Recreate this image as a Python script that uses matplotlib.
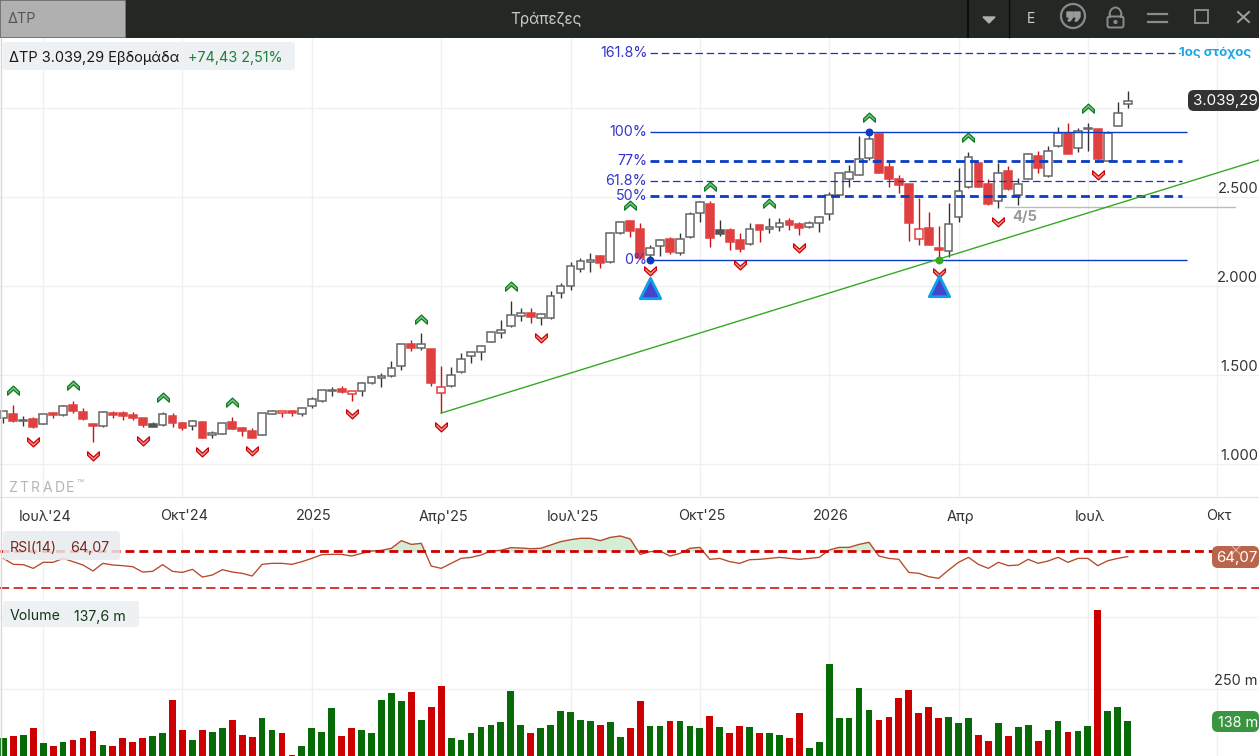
import numpy as np
import matplotlib
matplotlib.use("Agg")
import matplotlib.pyplot as plt
from matplotlib.path import Path
from matplotlib.patches import FancyBboxPatch, Rectangle, Circle, Arc

plt.rcParams['font.family'] = ['Inter', 'Noto Sans', 'DejaVu Sans']

# weekly candles
opens = [1257,1279,1242,1251,1223,1286,1277,1330,1290,1223,1212,1286,1285,1273,1257,1210,1221,1271,1230,1212,
         1236,1165,1167,1236,1200,1187,1165,1279,1285,1300,1279,1326,1354,1408,1419,1391,1412,1453,1481,1496,
         1552,1672,1654,1644,1397,1438,1515,1607,1627,1683,1738,1777,1831,1846,1818,1818,1959,2002,2094,2133,
         2170,2133,2296,2367,2318,2176,2225,2262,2183,2277,2408,2459,2294,2316,2260,2234,2341,2322,2330,2367,
         2346,2330,2352,2403,2511,2603,2625,2721,2852,2667,2599,2573,2262,2324,2212,2195,2386,2554,2689,2571,
         2479,2648,2513,2599,2732,2618,2786,2861,2773,2884,2880,2702,2899,3021]
highs = [1300,1330,1271,1262,1279,1290,1330,1354,1313,1228,1298,1296,1298,1292,1258,1236,1292,1286,1238,1247,
         1242,1187,1232,1262,1208,1200,1285,1303,1300,1305,1316,1376,1418,1433,1436,1412,1462,1494,1509,1579,
         1672,1697,1734,1644,1551,1545,1624,1627,1668,1740,1809,1916,1876,1876,1850,1970,2015,2133,2155,2187,
         2174,2305,2363,2371,2356,2230,2262,2273,2298,2414,2478,2476,2371,2324,2298,2352,2343,2382,2382,2380,
         2358,2367,2391,2530,2633,2680,2843,2843,2858,2699,2624,2573,2492,2416,2337,2464,2663,2753,2689,2599,
         2693,2674,2605,2745,2758,2786,2893,2916,2886,2916,2884,2873,3034,3095]
lows = [1232,1236,1215,1204,1223,1258,1270,1288,1247,1124,1208,1258,1247,1249,1208,1208,1213,1208,1191,1191,
        1146,1148,1167,1197,1159,1146,1165,1279,1264,1270,1271,1316,1348,1384,1401,1354,1384,1448,1434,1491,
        1528,1637,1640,1440,1285,1434,1513,1569,1584,1683,1710,1772,1805,1792,1781,1813,1934,1977,2080,2080,
        2103,2131,2290,2277,2150,2146,2170,2180,2176,2272,2361,2221,2283,2204,2193,2232,2249,2300,2311,2315,
        2288,2328,2305,2369,2511,2558,2624,2708,2635,2558,2524,2255,2232,2230,2146,2165,2361,2549,2554,2455,
        2440,2539,2457,2599,2635,2614,2783,2742,2753,2760,2699,2702,2899,3002]
closes = [1300,1240,1249,1210,1279,1277,1328,1296,1255,1212,1290,1277,1268,1257,1221,1225,1279,1228,1204,1243,
          1148,1172,1232,1198,1183,1148,1285,1300,1300,1285,1316,1363,1418,1418,1406,1412,1453,1487,1494,1541,
          1672,1650,1672,1457,1431,1502,1592,1627,1665,1740,1751,1839,1846,1828,1841,1944,2000,2114,2140,2144,
          2127,2296,2358,2311,2155,2212,2260,2189,2266,2404,2470,2272,2316,2245,2210,2322,2316,2330,2356,2345,
          2328,2356,2386,2511,2633,2639,2712,2824,2637,2603,2569,2356,2318,2232,2204,2346,2536,2723,2558,2459,
          2633,2543,2575,2740,2661,2760,2858,2743,2873,2890,2715,2858,2970,3039]
hollow_red = [28, 35, 44, 92]
dark_body = [15, 72]

volumes = [77.5,84.5,88,112.6,59.9,49.3,63.4,70.4,77.5,102,52.8,49.3,77.5,63.4,77.5,84.5,95,211,105.6,70.4,
           105.6,98.6,112.6,140.8,88,81,147.8,105.6,95,17.6,49.3,112.6,98.6,183,84.5,112.6,105.6,95,211,236,
           207.7,239.4,140.8,186.6,260.5,77.5,70.4,95,116.2,123.2,133.8,242.9,123.2,95,112.6,123.2,172.5,169,140.8,137.3,
           123.2,133.8,81,112.6,207.7,119.7,119.7,137.3,137.3,119.7,112.6,155,116.2,95,119.7,116.2,95,95,88,77.5,
           165.5,42.2,63.4,334.4,147.8,147.8,253.4,176,140.8,151.4,218.2,246.4,165.5,186.6,147.8,151.4,130.2,147.8,88,66.9,
           130.2,84.5,116.2,123.2,66.9,105.6,137.3,98.6,102,119.7,524.5,172.5,186.6,137.6]

rsi = [62.1,55.7,55.4,51.4,57.9,57.9,62.1,58.6,55,48.6,56.8,55,54.3,53.2,47.5,48.2,55.4,48.2,47.1,50.4,
       42.1,44.3,50,47.5,46.1,43.2,55.7,56.8,56.8,55.7,58.6,62.1,66.1,66.4,66.4,64.6,67.5,70,70.7,72.9,
       81.1,77.1,78.2,53.9,51.4,56.8,62.1,63.2,65.7,70,70.7,73.6,73.2,72.5,72.9,76.4,80,82.1,83.6,83.6,
       81.1,84.6,86.1,82.9,66.4,69.3,70,64.6,67.5,72.9,73.9,61.1,62.1,58.6,56.8,60.7,61.1,62.1,63.2,62.1,
       61.1,62.1,63.2,71.1,73.9,73.9,77.1,79.3,64.6,62.1,61.1,47.1,46.1,42.5,40.7,49.6,57.9,63.2,55.7,51.4,
       57.9,54.3,55,61.1,56.8,59.3,63.2,57.9,62.1,62.1,54.3,59.6,62.1,64.07]

date_ticks = [4, 18, 31, 44, 57, 70, 83, 96, 109, 122]
date_labels = ["Ιουλ'24", "Οκτ'24", "2025", "Απρ'25", "Ιουλ'25", "Οκτ'25", "2026", "Απρ", "Ιουλ", "Οκτ"]
price_ticks = [1000, 1500, 2000, 2500, 3000]
price_labels = ["1.000", "1.500", "2.000", "2.500"]

up_idx = [1, 7, 16, 23, 42, 51, 63, 71, 77, 87, 97, 109]
up_price = [1416, 1444, 1376, 1348, 1815, 2000, 2455, 2562, 2466, 2949, 2837, 3000]
down_idx = [3, 9, 14, 20, 25, 35, 44, 54, 65, 74, 80, 94, 100, 110]
down_price = [1124, 1045, 1129, 1067, 1073, 1281, 1208, 1708, 2084, 2118, 2213, 2073, 2360, 2624]

fib_names = ["0%", "50%", "61.8%", "77%", "100%", "161.8%"]
fib_prices = [2146, 2505, 2590, 2700, 2865, 3309]

W, H = 1259, 756
fig = plt.figure(figsize=(W / 100, H / 100), dpi=100, facecolor='white')


def panel(top, bottom):
    a = fig.add_axes([0, (H - bottom) / H, 1, (bottom - top) / H])
    a.set_xlim(-0.342, 126.2)
    a.set_xticks(date_ticks)
    a.tick_params(length=0, labelbottom=False, labelleft=False)
    a.grid(True, color='#f0f0f0', lw=1)
    a.set_axisbelow(True)
    for s in a.spines.values():
        s.set_visible(False)
    return a


ax = panel(38, 497)
ax.set_ylim(814.6, 3393.3)
ax.set_yticks(price_ticks)
ax2 = panel(529, 596)
ax2.set_ylim(21.8, 93.6)
ax2.set_yticks([])
ax3 = panel(597, 756)
ax3.set_ylim(14, 570)
ax3.set_yticks([250, 500])

n = len(closes)
xs = np.arange(n)
is_red = [closes[i] < opens[i] or i in hollow_red for i in range(n)]

# candles
for i in range(n):
    wick = '#cc1111' if is_red[i] else '#333333'
    ax.vlines(i, lows[i], highs[i], color=wick, lw=1.0, zorder=2)
    lo = min(opens[i], closes[i])
    hi = max(opens[i], closes[i])
    if i in hollow_red:
        face, edge = 'white', '#e04040'
    elif is_red[i]:
        face, edge = '#e04040', '#e04040'
    elif i in dark_body:
        face, edge = '#555555', '#555555'
    else:
        face, edge = 'white', '#666666'
    ax.bar(i, hi - lo, bottom=lo, width=0.78, facecolor=face, edgecolor=edge, lw=1.1, zorder=3)

# fib levels
x0, x1 = 65, 119
ax.hlines(fib_prices[0], x0, x1, color='#0a3cc4', lw=1, zorder=4)
ax.hlines(fib_prices[4], x0, x1, color='#0a3cc4', lw=1, zorder=4)
for k, lw in ((1, 2), (3, 2)):
    ax.plot([x0, 118.5], [fib_prices[k]] * 2, color='#0a3cc4', lw=lw, ls=(0, (3.2, 1.8)), zorder=4)
ax.plot([x0, 118.5], [fib_prices[2]] * 2, color='#0a3cc4', lw=0.9, ls=(0, (6, 3)), zorder=4)
ax.plot([x0, 118.3], [fib_prices[5]] * 2, color='#0a3cc4', lw=0.9, ls=(0, (6, 3)), zorder=4)
for name, p in zip(fib_names, fib_prices):
    ax.annotate(name, (x0, p), xytext=(-2, 0), textcoords='offset points', ha='right', va='center',
                color='#3434cc', fontsize=10.3, zorder=6)

# trend line and grey level
ax.plot([44, 126.2], [1286, 2708], color='#33aa22', lw=1, zorder=4)
ax.plot([100.7, 123.8], [2444, 2444], color='#bbbbbb', lw=1, zorder=2)
ax.text(101.4, 2425, "4/5", color='#999999', fontsize=10.5, fontweight='bold', ha='left', va='top')

# chevrons and pivots
chev = Path([(-1, -0.2), (0, 0.75), (1, -0.2), (1, -0.8), (0, 0.1), (-1, -0.8), (-1, -0.2)], closed=True)
chev_d = Path([(-1, 0.2), (0, -0.75), (1, 0.2), (1, 0.8), (0, -0.1), (-1, 0.8), (-1, 0.2)], closed=True)
ax.scatter(up_idx, up_price, marker=chev, s=72, facecolor='#7cc48a', edgecolor='#0a7a1a', lw=0.9, zorder=5)
ax.scatter(down_idx, down_price, marker=chev_d, s=72, facecolor='#ee9090', edgecolor='#cc0000', lw=0.9, zorder=5)
ax.scatter([65, 87], [2146, 2865], s=22, color='#0a3cc4', zorder=6)
ax.scatter([94], [2146], s=22, color='#33aa22', zorder=6)
ax.scatter([65, 94], [1990, 2000], marker='^', s=215, facecolor='#4444cc', edgecolor='#0ea0e8', lw=2, zorder=6)

for v, lab in zip(price_ticks, price_labels):
    ax.annotate(lab, (1, v), xycoords=('axes fraction', 'data'), xytext=(-0.7, 5.8), textcoords='offset points',
                ha='right', va='center', color='#333333', fontsize=10.6)

# rsi
ax2.plot(xs, rsi, color='#b5492a', lw=0.95, zorder=3)
ax2.fill_between(xs, rsi, 70, where=np.array(rsi) >= 70, interpolate=True, color='#d5ecd5', zorder=2)
ax2.axhline(70, color='#cc0000', lw=2, ls=(0, (3.2, 1.8)), zorder=3)
ax2.axhline(30, color='#cc0000', lw=1.1, ls=(0, (6, 3)), zorder=3)

# volume
ax3.bar(xs, volumes, width=0.68, color=['#cc0000' if r else '#066b06' for r in is_red], zorder=3)

# overlay in pixels for the window furniture and text boxes
ov = fig.add_axes([0, 0, 1, 1], zorder=10)
ov.set_xlim(0, W)
ov.set_ylim(H, 0)
ov.axis('off')
ov.patch.set_alpha(0)


def box(x, y, w, h, color, r=3, alpha=1):
    ov.add_patch(FancyBboxPatch((x + r, y + r), w - 2 * r, h - 2 * r, boxstyle="round,pad=%d,rounding_size=%d" % (r, r),
                                facecolor=color, edgecolor='none', alpha=alpha))


ov.add_patch(Rectangle((0, 0), W, 38, facecolor='#232825', edgecolor='none'))
ov.add_patch(Rectangle((0, 0), 125, 37, facecolor='#b0b0b0', edgecolor='#777777', lw=0.6))
ov.text(8, 19, "ΔΤΡ", color='#555555', fontsize=10.4, va='center')
ov.text(546, 19, "Τράπεζες", color='#c8c8c8', fontsize=11, va='center', ha='center')
ov.plot([968, 968], [0, 37], color='#0c0e0d', lw=1.5)
ov.plot([1009, 1009], [0, 37], color='#0c0e0d', lw=1)
ov.fill([983, 995, 989], [17, 17, 23], color='#b0b0b0')
ov.text(1031, 19, "E", color='#cfcfcf', fontsize=10, va='center', ha='center')
ov.add_patch(Circle((1073, 16), 12, facecolor='none', edgecolor='#8a8a8a', lw=1.6))
for qx in (1067, 1074):
    ov.fill([qx, qx + 6, qx + 6, qx + 3, qx + 1, qx + 3, qx], [12, 12, 17, 21, 21, 17, 17], color='#9a9a9a')
ov.add_patch(FancyBboxPatch((1109, 18), 13, 8, boxstyle="round,pad=1.5,rounding_size=2", facecolor='none',
                            edgecolor='#8a8a8a', lw=1.4))
ov.add_patch(Arc((1115.5, 15), 12, 15, theta1=180, theta2=360, color='#8a8a8a', lw=1.4))
ov.plot([1110, 1110], [15, 17], color='#8a8a8a', lw=1.4)
ov.plot([1121, 1121], [15, 17], color='#8a8a8a', lw=1.4)
ov.add_patch(Circle((1115.5, 22), 1.4, color='#8a8a8a'))
ov.plot([1148, 1167], [14, 14], color='#8a8a8a', lw=1.6)
ov.plot([1148, 1167], [22, 22], color='#8a8a8a', lw=1.6)
ov.add_patch(Rectangle((1195, 10), 13, 13, facecolor='none', edgecolor='#8a8a8a', lw=1.4))
ov.plot([1238, 1249], [12, 22], color='#a0a0a0', lw=1.4)
ov.plot([1238, 1249], [22, 12], color='#a0a0a0', lw=1.4)

ov.plot([0, W], [497, 497], color='#e4e4e4', lw=0.8)
ov.plot([1, 1], [38, H], color='#d8d8d8', lw=1)

box(3, 42, 292, 28, '#edf1f3')
ov.text(9, 58, "ΔΤΡ 3.039,29 Εβδομάδα", color='#1a1a1a', fontsize=10.5, va='center')
ov.text(188, 58, "+74,43 2,51%", color='#1e7f3a', fontsize=10.3, va='center')

ov.text(1179, 53, "1ος στόχος", color='#1aa7e8', fontsize=9.6, fontweight='bold', va='center')
box(1188, 90, 71, 21, '#333333', r=6)
ov.text(1258, 101, "3.039,29", color='white', fontsize=10.9, va='center', ha='right')
for k, ch in enumerate("ZTRADE"):
    ov.text(8 + 11.6 * k, 488, ch, color='#b5b5b5', fontsize=10, va='center')
ov.text(77, 485, "™", color='#b5b5b5', fontsize=8.5, va='center')

for t, lab in zip(date_ticks, date_labels):
    ov.text(5.4 + 9.95 * t, 516.5, lab, color='#333333', fontsize=10.4, ha='center', va='center')

box(3, 531, 117, 29, '#e8ecef', alpha=0.85)
ov.text(10, 548, "RSI(14)", color='#7a2a1a', fontsize=10.2, va='center')
ov.text(70, 548, "64,07", color='#7a2a1a', fontsize=10.2, va='center')
box(1212, 546, 47, 22, '#b9654c', r=6)
ov.text(1258, 558, "64,07", color='white', fontsize=10.8, va='center', ha='right')
ov.plot([1232, 1240], [546, 554], color='white', lw=0.8, alpha=0.5)
ov.plot([1232, 1240], [554, 546], color='white', lw=0.8, alpha=0.5)

box(3, 601, 136, 26, '#edf1f3')
ov.text(10, 616.5, "Volume", color='#143814', fontsize=10.2, va='center')
ov.text(74, 616.5, "137,6 m", color='#143814', fontsize=10.2, va='center')
ov.text(1258, 681, "250 m", color='#333333', fontsize=10.4, va='center', ha='right')
box(1212, 711, 47, 21, '#3a9440', r=6)
ov.text(1258, 723, "138 m", color='white', fontsize=10.4, va='center', ha='right')

fig.savefig("out.png", dpi=100)
